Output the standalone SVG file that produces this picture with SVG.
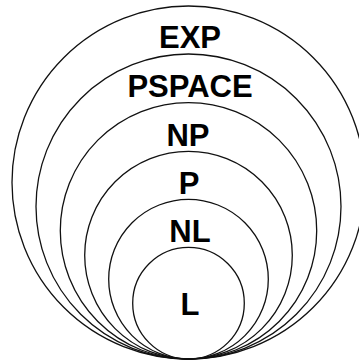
<svg xmlns="http://www.w3.org/2000/svg" width="359" height="362" viewBox="0 0 359 362">
<style>
.c{fill:none;stroke:#111;stroke-width:1.3}
.t{font-family:"Liberation Sans",Arial,sans-serif;font-weight:bold;font-size:31px;fill:#000;text-anchor:middle}
</style>
<rect width="359" height="362" fill="#fff"/>
<g id="EXP"><circle class="c" cx="188.5" cy="182.5" r="176.5"/><text class="t" x="190" y="47.5">EXP</text></g>
<g id="PSPACE"><circle class="c" cx="188.5" cy="206.5" r="152.5"/><text class="t" x="190" y="96.5">PSPACE</text></g>
<g id="NP"><circle class="c" cx="188.5" cy="230.8" r="128.2"/><text class="t" x="188" y="145.5">NP</text></g>
<g id="P"><circle class="c" cx="188.5" cy="255.2" r="103.8"/><text class="t" x="189" y="193.5">P</text></g>
<g id="NL"><circle class="c" cx="188.5" cy="279.2" r="79.8"/><text class="t" x="190" y="241.5">NL</text></g>
<g id="L"><circle class="c" cx="188.5" cy="303.2" r="55.8"/><text class="t" x="190" y="315">L</text></g>
<g id="connectors"/>
</svg>
